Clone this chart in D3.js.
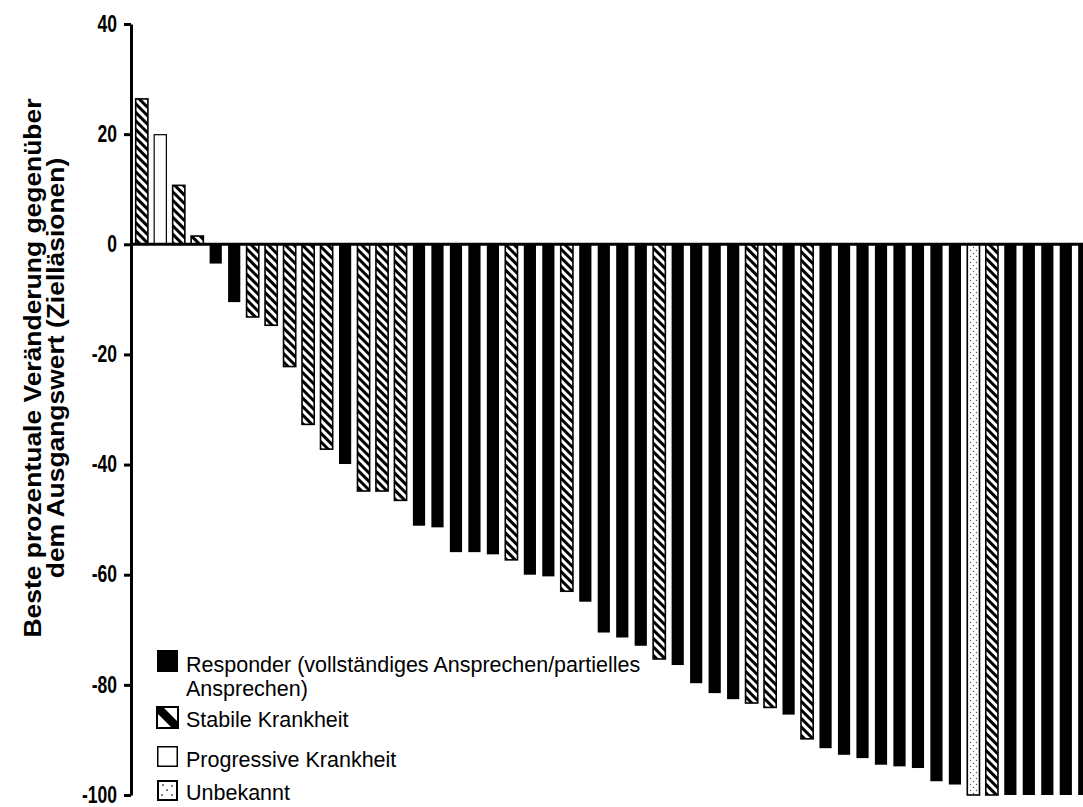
<!DOCTYPE html>
<html><head><meta charset="utf-8">
<script src="https://cdnjs.cloudflare.com/ajax/libs/d3/7.8.5/d3.min.js"></script>
<style>body{margin:0;background:#fff}svg{display:block}</style>
</head><body><svg id="c" width="1083" height="807"></svg>
<script>
// Best percent change from baseline per patient (sorted)
const values = [26.4, 19.9, 10.7, 1.5, -3.5, -10.5, -13.2, -14.7, -22.2, -32.7, -37.2, -39.9,
  -44.8, -44.8, -46.5, -51.1, -51.4, -55.9, -55.9, -56.3, -57.3, -60.0, -60.3, -63.0,
  -64.9, -70.5, -71.4, -72.9, -75.3, -76.4, -79.7, -81.5, -82.6, -83.3, -84.1, -85.4,
  -89.8, -91.5, -92.7, -93.3, -94.5, -94.8, -95.1, -97.5, -98.1, -100, -100, -100,
  -100, -100, -100, -100];
// R = responder, S = stable, P = progressive, U = unknown
const responses = ["S","P","S","S","R","R","S","S","S","S","S","R",
  "S","S","S","R","R","R","R","R","S","R","R","S",
  "R","R","R","R","S","R","R","R","R","S","S","R",
  "S","R","R","R","R","R","R","R","R","U","S","R",
  "R","R","R","R"];
const yTicks = [40, 20, 0, -20, -40, -60, -80, -100];
const legendLabels = [
  ["Responder (vollständiges Ansprechen/partielles", "Ansprechen)"],
  ["Stabile Krankheit"],
  ["Progressive Krankheit"],
  ["Unbekannt"]];
const legendKeys = ["R", "S", "P", "U"];
const yTitle = ["Beste prozentuale Veränderung gegenüber", "dem Ausgangswert (Zielläsionen)"];

const svg = d3.select("#c");
const defs = svg.append("defs");
const hatch = defs.append("pattern").attr("id","hatch").attr("patternUnits","userSpaceOnUse")
  .attr("width",6).attr("height",6).attr("patternTransform","rotate(45)");
hatch.append("rect").attr("width",6).attr("height",6).attr("fill","#fff");
hatch.append("rect").attr("width",6).attr("height",3).attr("fill","#000");
const dots = defs.append("pattern").attr("id","dots").attr("patternUnits","userSpaceOnUse")
  .attr("width",6).attr("height",6);
dots.append("rect").attr("width",6).attr("height",6).attr("fill","#fff");
dots.append("circle").attr("cx",1.5).attr("cy",1.5).attr("r",0.7).attr("fill","#555");
dots.append("circle").attr("cx",4.5).attr("cy",4.5).attr("r",0.7).attr("fill","#555");

const fillOf = {R:"#000", S:"url(#hatch)", P:"#fff", U:"url(#dots)"};
const strokeOf = {R:"none", S:"#000", P:"#000", U:"#000"};
const strokeW = {R:0, S:1.6, P:1.2, U:1.6};

const axisX = 131;
const x = d3.scaleBand().domain(d3.range(values.length))
  .range([135.7, 135.7 + 18.48 * (values.length - 0.34)])
  .paddingInner(0.34).paddingOuter(0);
const y = d3.scaleLinear().domain([-100, 40]).range([795, 24]);

// bars
svg.append("g").selectAll("rect").data(values).join("rect")
  .attr("x", (d,i) => x(i))
  .attr("width", x.bandwidth())
  .attr("y", d => y(Math.max(0,d)))
  .attr("height", d => Math.abs(y(d) - y(0)))
  .attr("fill", (d,i) => fillOf[responses[i]])
  .attr("stroke", (d,i) => strokeOf[responses[i]])
  .attr("stroke-width", (d,i) => strokeW[responses[i]]);

// zero line
svg.append("line").attr("x1", axisX).attr("x2", 1083).attr("y1", y(0)).attr("y2", y(0))
  .attr("stroke","#000").attr("stroke-width",3);

// y axis
const gy = svg.append("g").attr("transform", `translate(${axisX},0)`)
  .call(d3.axisLeft(y).tickValues(yTicks).tickSize(7).tickSizeOuter(0).tickFormat(d => String(d)));
gy.select(".domain").attr("stroke-width",3);
gy.selectAll(".tick line").attr("stroke-width",3);
gy.attr("font-size", null).attr("font-family", null);
gy.selectAll(".tick text")
  .attr("x", null).attr("dy","0.3em")
  .attr("transform","translate(-14,0) scale(0.73,1)")
  .style("font-family","'Liberation Sans', Arial, sans-serif")
  .style("font-weight","bold").style("font-size","24px").attr("fill","#000");

// y title
const titleYc = 368;
yTitle.forEach((t,i) => {
  svg.append("text")
    .attr("transform", `translate(${41 + i*23},${titleYc}) rotate(-90) scale(1.15,1)`)
    .attr("text-anchor","middle")
    .style("font-family","'Liberation Sans', Arial, sans-serif")
    .style("font-weight","bold").style("font-size","23px").attr("fill","#000")
    .text(t);
});

// legend
const lg = svg.append("g").style("font-family","'Liberation Sans', Arial, sans-serif")
  .style("font-size","21.5px").attr("fill","#000");
const iconY = [650, 707, 746, 780];
const textY = [672, 727, 767, 800];
legendKeys.forEach((k,i) => {
  const ix = 157, iy = iconY[i], s = 21;
  if (k === "R") {
    lg.append("rect").attr("x",ix).attr("y",iy).attr("width",s).attr("height",s+1).attr("fill","#000");
  } else if (k === "S") {
    lg.append("rect").attr("x",ix).attr("y",iy).attr("width",s).attr("height",s).attr("fill","#fff");
    lg.append("polygon").attr("points",
      `${ix},${iy} ${ix+6},${iy} ${ix+s},${iy+s-6} ${ix+s},${iy+s} ${ix+s-6},${iy+s} ${ix},${iy+6}`).attr("fill","#000");
    lg.append("rect").attr("x",ix).attr("y",iy).attr("width",s).attr("height",s)
      .attr("fill","none").attr("stroke","#000").attr("stroke-width",2);
  } else if (k === "P") {
    lg.append("rect").attr("x",ix+0.75).attr("y",iy+0.75).attr("width",s-1.5).attr("height",s-1.5)
      .attr("fill","#fff").attr("stroke","#000").attr("stroke-width",1.5);
  } else {
    lg.append("rect").attr("x",ix+1).attr("y",iy+1).attr("width",s-2).attr("height",s-2)
      .attr("fill","#fff").attr("stroke","#000").attr("stroke-width",2);
    [[6,5],[15,6],[10,10],[5,15],[15,15]].forEach(p =>
      lg.append("circle").attr("cx",ix+p[0]).attr("cy",iy+p[1]).attr("r",1).attr("fill","#555"));
  }
  legendLabels[i].forEach((line,j) => {
    lg.append("text").attr("x",186).attr("y",textY[i] + j*24).text(line);
  });
});
</script></body></html>
